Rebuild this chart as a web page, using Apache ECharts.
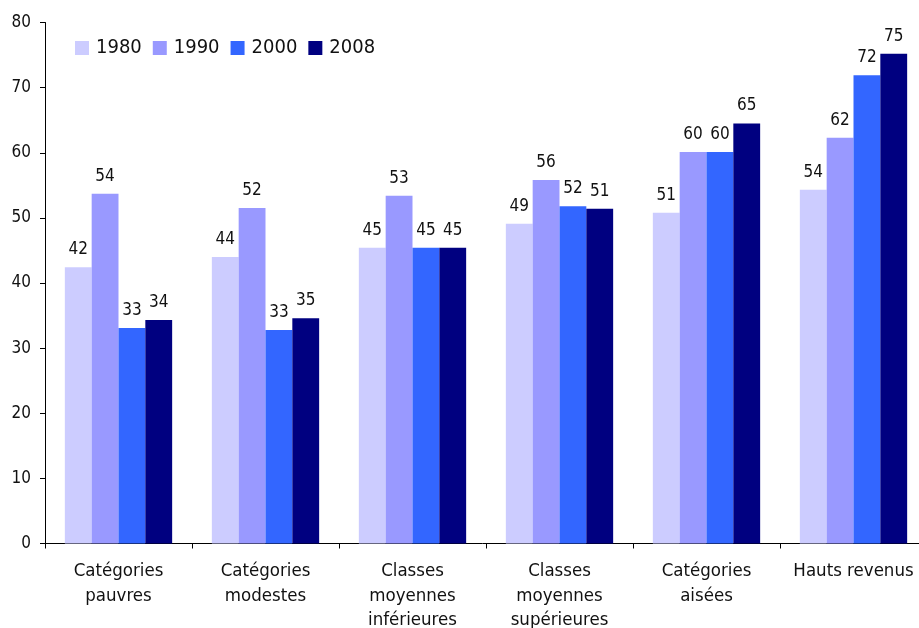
<!DOCTYPE html>
<html>
<head>
<meta charset="utf-8">
<script src="https://cdn.jsdelivr.net/npm/echarts@6/dist/echarts.min.js"></script>
<style>
html,body{margin:0;padding:0;background:#fff;}
#chart{width:919px;height:628px;}
</style>
</head>
<body>
<div id="chart"></div>
<script>
const categories = ["Catégories\npauvres", "Catégories\nmodestes", "Classes\nmoyennes\ninférieures", "Classes\nmoyennes\nsupérieures", "Catégories\naisées", "Hauts revenus"];
const years = ["1980", "1990", "2000", "2008"];
const values1980 = [42.4, 44.0, 45.4, 49.1, 50.8, 54.3];
const values1990 = [53.7, 51.5, 53.4, 55.8, 60.1, 62.3];
const values2000 = [33.1, 32.8, 45.4, 51.8, 60.1, 71.9];
const values2008 = [34.3, 34.6, 45.4, 51.4, 64.5, 75.2];
const colors = ["#CCCCFF", "#9999FF", "#3366FF", "#000080"];
const yTicks = [0, 10, 20, 30, 40, 50, 60, 70, 80];

const FONT = "'DejaVu Sans Condensed', 'DejaVu Sans', sans-serif";
const seriesValues = [values1980, values1990, values2000, values2008];

const chart = echarts.init(document.getElementById('chart'), null, {renderer: 'canvas'});
chart.setOption({
  animation: false,
  backgroundColor: '#ffffff',
  textStyle: {fontFamily: FONT},
  legend: {
    left: 75, top: 38, padding: 0,
    itemWidth: 14, itemHeight: 14, itemGap: 11,
    icon: 'rect',
    textStyle: {fontFamily: FONT, fontSize: 20, color: '#111', padding: [0,0,0,2]},
    data: years
  },
  grid: {left: 45, right: -8, top: 22.5, bottom: 84.5, containLabel: false, outerBoundsMode: 'none'},
  xAxis: {
    type: 'category',
    data: categories,
    axisLine: {lineStyle: {color: '#000', width: 1}},
    axisTick: {show: true, length: 5, lineStyle: {color: '#000'}},
    axisLabel: {fontFamily: FONT, fontSize: 18.5, color: '#111', lineHeight: 24.5, margin: 15.5, interval: 0}
  },
  yAxis: {
    type: 'value',
    min: yTicks[0], max: yTicks[yTicks.length-1], interval: 10,
    axisLine: {show: true, lineStyle: {color: '#000', width: 1}},
    axisTick: {show: true, length: 5, lineStyle: {color: '#000'}},
    splitLine: {show: false},
    axisLabel: {fontFamily: FONT, fontSize: 17, color: '#111', margin: 14}
  },
  series: years.map((y, i) => ({
    name: y,
    type: 'bar',
    data: seriesValues[i],
    barGap: '0%',
    barCategoryGap: '27%',
    itemStyle: {color: colors[i]},
    label: {
      show: true, position: 'top', distance: 9,
      fontFamily: FONT, fontSize: 17, color: '#111',
      formatter: p => Math.round(p.value)
    }
  }))
});
</script>
</body>
</html>
